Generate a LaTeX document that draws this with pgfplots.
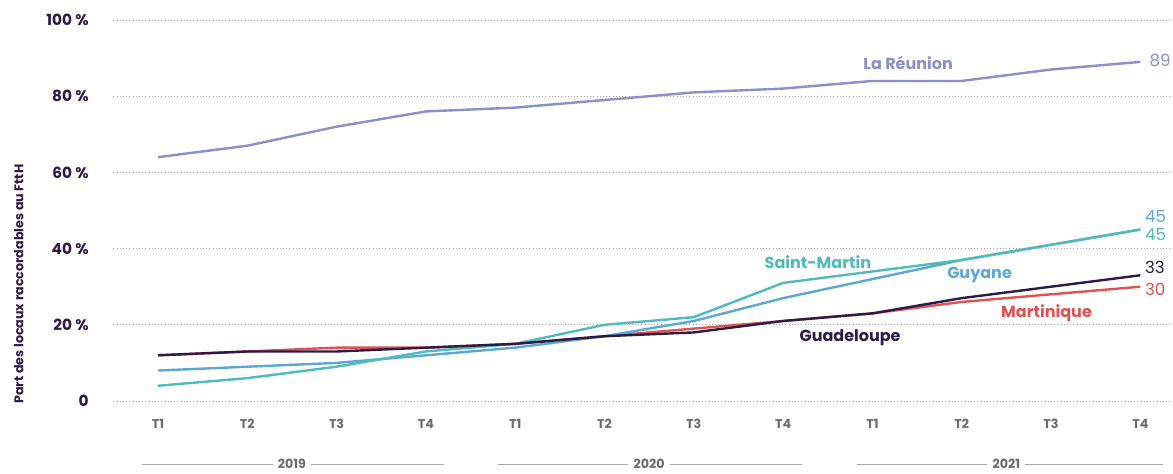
\documentclass[border=0pt]{standalone}
\usepackage{pgfplots}
\pgfplotsset{compat=1.18}
\usepackage{fontspec}
\setmainfont{Poppins}

\definecolor{reunion}{HTML}{8B8FCA}
\definecolor{guadeloupe}{HTML}{2B1A4A}
\definecolor{martinique}{HTML}{E05252}
\definecolor{guyane}{HTML}{5BA7D6}
\definecolor{stmartin}{HTML}{4EBCBC}
\definecolor{gridgray}{HTML}{A8A8A8}
\definecolor{ticksgray}{HTML}{6B6B6B}

\pgfplotstableread{
x reunion guadeloupe martinique guyane stmartin
0  64 12 12  8  4
1  67 13 13  9  6
2  72 13 14 10  9
3  76 14 14 12 13
4  77 15 15 14 15
5  79 17 17 17 20
6  81 18 19 21 22
7  82 21 21 27 31
8  84 23 23 32 34
9  84 27 26 37 37
10 87 30 28 41 41
11 89 33 30 45 45
}\datatable

\begin{document}
\begin{tikzpicture}
\begin{axis}[
    scale only axis,
    width=795pt, height=285.75pt,
    xmin=-0.5, xmax=11.37,
    ymin=0, ymax=100,
    axis line style={draw=none},
    clip=false,
    ymajorgrids,
    grid style={gridgray, dotted, line width=0.6pt},
    ytick={0,20,...,100},
    yticklabels={0,20 \%,40 \%,60 \%,80 \%,100 \%},
    yticklabel style={font=\bfseries\fontsize{11.5}{13}\selectfont, text=guadeloupe, anchor=east, xshift=-15pt},
    xtick={0,...,11},
    xticklabels={T1,T2,T3,T4,T1,T2,T3,T4,T1,T2,T3,T4},
    xticklabel style={font=\bfseries\fontsize{9.5}{11}\selectfont, text=ticksgray, yshift=-10pt},
    major tick length=0pt,
    every axis plot/.append style={line width=1.8pt, no markers},
]
\addplot[reunion] table[x=x, y=reunion] {\datatable};
\addplot[martinique] table[x=x, y=martinique] {\datatable};
\addplot[guyane] table[x=x, y=guyane] {\datatable};
\addplot[stmartin] table[x=x, y=stmartin] {\datatable};
\addplot[guadeloupe] table[x=x, y=guadeloupe] {\datatable};

% series names
\begin{scope}[every node/.style={font=\bfseries\fontsize{12}{14}\selectfont}]
\node[text=reunion] at (axis cs:8.4,88.7) {La Réunion};
\node[text=stmartin] at (axis cs:7.39,36.5) {Saint-Martin};
\node[text=guyane] at (axis cs:9.2,33) {Guyane};
\node[text=martinique] at (axis cs:9.95,23) {Martinique};
\node[text=guadeloupe] at (axis cs:7.75,16.5) {Guadeloupe};
\end{scope}

% end values
\begin{scope}[every node/.style={font=\fontsize{12.5}{14}\selectfont, anchor=west, inner sep=0pt}]
\node[text=reunion] at (axis cs:11.1,89.3) {89};
\node[text=guyane] at (axis cs:11.05,48.5) {45};
\node[text=stmartin] at (axis cs:11.05,43.8) {45};
\node[text=guadeloupe] at (axis cs:11.05,35.1) {33};
\node[text=martinique] at (axis cs:11.05,29.4) {30};
\end{scope}

% axis title
\node[rotate=90, anchor=west, font=\bfseries\fontsize{9.5}{11}\selectfont, text=guadeloupe]
  at (axis cs:-1.56,-1.9) {Part des locaux raccordables au FttH};

% years
\begin{scope}[every node/.style={font=\bfseries\fontsize{9.5}{11}\selectfont, text=ticksgray, fill=white, inner xsep=4pt, inner ysep=1pt}]
\draw[gridgray, line width=1pt] (axis cs:-0.18,-16.6) -- (axis cs:3.2,-16.6);
\node at (axis cs:1.5,-16.6) {2019};
\draw[gridgray, line width=1pt] (axis cs:3.81,-16.6) -- (axis cs:7.21,-16.6);
\node at (axis cs:5.5,-16.6) {2020};
\draw[gridgray, line width=1pt] (axis cs:7.83,-16.6) -- (axis cs:11.25,-16.6);
\node at (axis cs:9.5,-16.6) {2021};
\end{scope}

\coordinate (bbSW) at (axis cs:-1.769,-18.9);
\coordinate (bbNE) at (axis cs:11.366,105.25);
\end{axis}
\pgfresetboundingbox
\path[use as bounding box] (bbSW) rectangle (bbNE);
\end{tikzpicture}
\end{document}
